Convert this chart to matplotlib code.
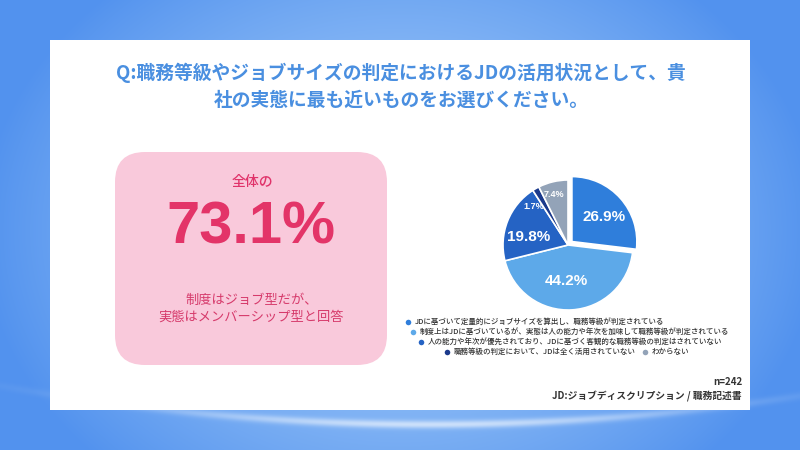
import numpy as np
import matplotlib
matplotlib.use("Agg")
import matplotlib.pyplot as plt
from matplotlib.patches import FancyBboxPatch, Rectangle

# ---------------- data ----------------
title_lines = ["Q:職務等級やジョブサイズの判定におけるJDの活用状況として、貴",
               "社の実態に最も近いものをお選びください。"]
categories = [
    "JDに基づいて定量的にジョブサイズを算出し、職務等級が判定されている",
    "制度上はJDに基づいているが、実態は人の能力や年次を加味して職務等級が判定されている",
    "人の能力や年次が優先されており、JDに基づく客観的な職務等級の判定はされていない",
    "職務等級の判定において、JDは全く活用されていない",
    "わからない",
]
values = [26.9, 44.2, 19.8, 1.7, 7.4]
colors = ["#2F7EDB", "#5DA9E9", "#2563C4", "#1B3A8C", "#93A3B8"]
highlight_pre = "全体の"
highlight_value = "73.1%"
highlight_note = ["制度はジョブ型だが、", "実態はメンバーシップ型と回答"]
sample_note = "n=242"
jd_note = "JD:ジョブディスクリプション / 職務記述書"

JP = ["Noto Sans CJK JP", "DejaVu Sans"]
plt.rcParams['font.family'] = JP

W, H = 800, 450
fig = plt.figure(figsize=(8, 4.5), dpi=100)

# ---------- background ----------
bg = fig.add_axes([0, 0, 1, 1])
yy, xx = np.mgrid[0:H, 0:W]
d = np.sqrt(((xx - 400) / 420.0) ** 2 + ((yy - 230) / 330.0) ** 2)
t = np.clip(1 - d, 0, 1) ** 0.9
edge = np.array([0x52, 0x92, 0xEE]) / 255
center = np.array([0xB2, 0xD6, 0xFB]) / 255
img = edge[None, None, :] * (1 - t[..., None]) + center[None, None, :] * t[..., None]
g = np.exp(-(((xx - 430) / 260.0) ** 2)) * np.exp(-(((yy - (412 + 12 * (1 - ((xx - 430) / 240.0) ** 2))) / 4.0) ** 2))
img = img * (1 - 0.6 * g[..., None]) + 0.6 * g[..., None]
bg.imshow(img, extent=[0, W, H, 0], aspect="auto", zorder=0)
bg.set_xlim(0, W); bg.set_ylim(H, 0); bg.axis("off")

# white panel
bg.add_patch(Rectangle((49.5, 39.5), 700.5, 370.5, facecolor="white", edgecolor="none", zorder=1))

# pink box
bg.add_patch(FancyBboxPatch((115, 152), 272, 213, boxstyle="round,pad=0,rounding_size=30",
                            facecolor="#F9C9DB", edgecolor="none", zorder=2))

def fx(x): return x / W
def fy(y): return 1 - y / H

# title
fig.text(fx(401), fy(73), title_lines[0], ha="center", va="center", fontsize=13.5,
         fontweight="bold", color="#4A8FE0", family=JP)
fig.text(fx(401), fy(100), title_lines[1], ha="center", va="center", fontsize=13.5,
         fontweight="bold", color="#4A8FE0", family=JP)

# highlight texts
fig.text(fx(252), fy(182), highlight_pre, ha="center", va="center", fontsize=10,
         fontweight="medium", color="#E0336A", family=JP)
fig.text(fx(251), fy(228), highlight_value, ha="center", va="center", fontsize=43,
         fontweight="bold", color="#E33468", family=["Liberation Sans", "DejaVu Sans"])
fig.text(fx(252), fy(300), highlight_note[0], ha="center", va="center", fontsize=9.5,
         color="#D63A6B", family=JP)
fig.text(fx(251), fy(317), highlight_note[1], ha="center", va="center", fontsize=9.5,
         color="#D63A6B", family=JP)

# ---------- pie ----------
cx, cy, r = 568, 245, 65
L = 100 / r
pax = fig.add_axes([fx(cx - 100), fy(cy + 100), 200 / W, 200 / H])
explode = [0.08, 0, 0, 0, 0]
wedges, _ = pax.pie(values, colors=colors, startangle=90, counterclock=False,
                    explode=explode, radius=1,
                    wedgeprops=dict(edgecolor="white", linewidth=1.2))
pax.set_xlim(-L, L); pax.set_ylim(-L, L); pax.axis("off")
label_dist = [0.62, 0.56, 0.62, 0.80, 0.80]
label_size = [11, 11, 11, 6.5, 6.5]
label_angle_shift = [-4, -6, 10, 12, 2]
for w, v, dist, fs, sh, ex in zip(wedges, values, label_dist, label_size, label_angle_shift, explode):
    ang = np.deg2rad((w.theta1 + w.theta2) / 2 + sh)
    mid = np.deg2rad((w.theta1 + w.theta2) / 2)
    x = dist * np.cos(ang) + ex * np.cos(mid)
    y = dist * np.sin(ang) + ex * np.sin(mid)
    pax.text(x, y, f"{v}%", ha="center", va="center", fontsize=fs, fontweight="bold",
             color="white", family=["Liberation Sans", "DejaVu Sans"])

# ---------- legend ----------
leg_rows = [(408, 322, [0]), (413, 332, [1]), (421, 342, [2]), (447, 352, [3, 4])]
second_x = 645
for mx, my, idxs in leg_rows:
    for k, i in enumerate(idxs):
        x0 = mx if k == 0 else second_x
        bg.scatter([x0], [my], s=16, color=colors[i], zorder=3, linewidths=0)
        fig.text(fx(x0 + 7), fy(my), categories[i], ha="left", va="center", fontsize=5.4,
                 fontweight="medium", color="#333333", family=JP)

fig.text(fx(742), fy(382), sample_note, ha="right", va="center", fontsize=7,
         fontweight="bold", color="#333333", family=JP)
fig.text(fx(742), fy(396), jd_note, ha="right", va="center", fontsize=7,
         fontweight="bold", color="#333333", family=JP)

fig.savefig("out.png", dpi=100)
